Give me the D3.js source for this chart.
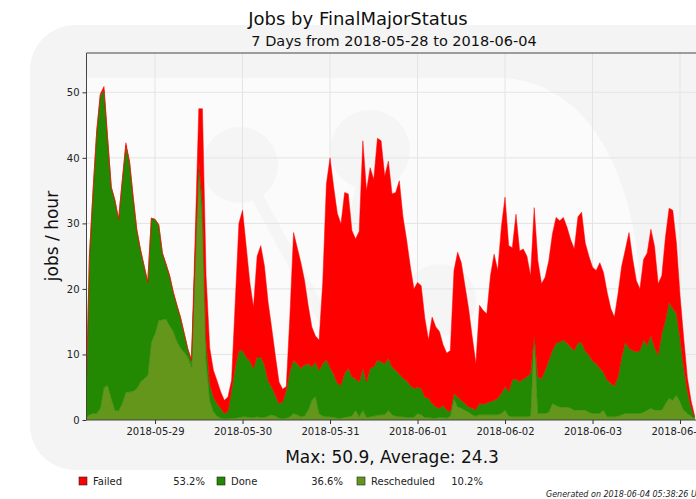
<!DOCTYPE html>
<html>
<head>
<meta charset="utf-8">
<script src="https://cdn.jsdelivr.net/npm/d3@7"></script>
<style>
  body { margin: 0; background: #fff; }
  svg { display: block; font-family: "DejaVu Sans", sans-serif; }
</style>
</head>
<body>
<svg id="chart" width="696" height="499"></svg>
<script>
// hourly bins starting 2018-05-28 05:00 UTC
var startHour = "2018-05-28T05:00:00Z";
var seriesNames = ["Failed", "Done", "Rescheduled"];
var seriesColors = ["#ff0000", "#238802", "#64961c"];
var seriesShares = ["53.2%", "36.6%", "10.2%"];

var failed = [0, 0, 0, 0, 0.2, 0.6, 0.2, 0, 0, 0, 0.1, 0.4, 0.2, 0, 0, 0, 0, 0, 0, 0,
  0, 0, 0, 0, 0, 0, 0, 0, 0, 0, 3, 8, 14.5, 10, 5.5, 4.1, 3.5, 2.5, 2, 2.2,
  1.6, 10, 19.4, 21.4, 16.9, 12, 9.3, 15.4, 17, 15.1, 12, 9, 6, 3.3, 1.9, 0.6, 8.5, 19.5, 17.7, 16.1,
  12.9, 8.9, 6.1, 4, 4.6, 12.4, 26.8, 32, 28.5, 25.9, 24.6, 27.6, 26.6, 22.3, 21.3, 23, 34.7, 29.2, 30.6, 28.6,
  33.9, 33.7, 28.6, 30.1, 26.4, 27.1, 29.5, 24.6, 21.5, 18.2, 15.2, 16, 15.7, 12, 8.9, 13.2, 12.2, 11.7, 9.3, 8.7,
  9.3, 18.8, 22.1, 21, 18, 15, 10.9, 7, 15, 14.3, 13.6, 19.2, 22.3, 19.5, 25.4, 28.9, 22.3, 20.2, 25.1, 20,
  19.8, 18.4, 14.9, 19.4, 17.7, 14.5, 14.2, 15.2, 17.8, 19.2, 18.5, 18.7, 17.7, 16.4, 15.5, 19.2, 19.9, 16.5, 15.1, 14.3,
  14.2, 16.1, 15.2, 13.4, 11.4, 10.5, 12.7, 13.9, 14.1, 17.7, 14, 10.9, 9.4, 12.3, 14.1, 16.2, 15.4, 10.9, 8.8, 12.7,
  14.3, 15, 10.7, 6.5, 4.5, 2, 1, 0.2];
var done = [0.8, 24.2, 34, 43, 47.8, 45.3, 37.5, 32.2, 32, 29.2, 33.9, 37.7, 35, 29.6, 24.2, 20.2, 17.2, 14.2, 18.9, 17.4,
  14.6, 10.2, 8.4, 7.6, 6, 5.5, 4.6, 2.9, 1.2, 1, 1, 1.2, 3, 3, 2.5, 2.2, 1.9, 1.5, 0.8, 1.1,
  4.2, 7.7, 10.2, 10.1, 9.1, 8.6, 7.5, 9.1, 9.2, 8, 5.4, 4.2, 3.2, 2.2, 2.6, 4.2, 7, 8.1, 7.8, 7.4,
  7.8, 7.1, 5.1, 5.2, 6.6, 8, 8.7, 7.5, 6.6, 5.3, 5, 6.7, 7.4, 6, 4.8, 5.3, 6.4, 5.4, 7.4, 7.5,
  8.4, 8.1, 7.8, 7.9, 7.3, 7, 6.5, 5.9, 5.6, 4.9, 4.4, 4, 4, 3.1, 2.9, 2.2, 1.7, 1.4, 1.8, 1.2,
  0.7, 0.8, 1.5, 1.2, 1, 0.8, 1, 1, 1.7, 1.6, 1.8, 2, 2.2, 2.5, 3.1, 3.6, 3.7, 5.6, 5.8, 5.3,
  5.8, 6.1, 6.5, 0.5, 5.6, 5.3, 6.6, 7.9, 8.1, 9.5, 9.9, 10.2, 9.7, 9.3, 9.1, 10.3, 10.3, 9, 8.7, 8,
  7.6, 6.9, 5.8, 5.6, 5.1, 4.7, 6, 8.8, 10.9, 9.9, 9.6, 9.4, 9.6, 11, 9.9, 11.1, 9.6, 8.4, 11.7, 12.7,
  14.7, 14, 12.5, 9.7, 6.5, 3.5, 1.4, 0.2];
var rescheduled = [0.2, 0.8, 1, 1, 1.8, 5, 5.3, 3.3, 1.5, 1.4, 2.5, 4.2, 4.3, 4.4, 4.8, 5.8, 6.3, 6.8, 11.9, 13.2,
  15.2, 15.3, 15.4, 14.4, 13.5, 12, 11, 10.3, 9.6, 8.1, 24, 38.3, 30, 9, 3, 1.3, 0.6, 0.3, 0.2, 0.2,
  0.3, 0.3, 0.4, 0.5, 0.5, 0.4, 0.4, 0.5, 0.4, 0.4, 0.6, 0.8, 0.6, 0.3, 0.2, 0.3, 0.5, 1, 0.8, 0.5,
  0.6, 1.5, 3, 3.6, 1, 0.6, 0.5, 0.5, 0.4, 0.3, 0.3, 0.4, 0.5, 0.6, 1.5, 0.5, 1.5, 0.4, 0.5, 0.6,
  0.7, 0.8, 0.8, 1.5, 0.8, 0.6, 0.5, 0.5, 0.4, 0.4, 0.4, 1, 0.8, 0.4, 0.4, 0.3, 0.3, 0.4, 0.4, 0.3,
  0.6, 3.2, 2, 1.8, 1.5, 1.2, 0.8, 0.6, 0.8, 0.8, 0.8, 0.8, 0.8, 0.8, 1, 1.5, 0.6, 0.5, 0.5, 0.5,
  0.5, 0.5, 0.6, 12.5, 1, 1, 1, 1.2, 2.5, 2.2, 2, 2, 2, 1.8, 1.5, 1.5, 1.5, 1.5, 1.2, 1,
  1, 1, 1.5, 0.5, 0.5, 0.5, 0.6, 0.8, 1, 1, 1, 1, 1, 1.2, 1.5, 1.8, 1.5, 1.5, 1.5, 2.5,
  3.3, 3, 3.8, 2.8, 1.5, 1, 0.6, 0.2];
var yTicks = [0, 10, 20, 30, 40, 50];

(function () {
  var svg = d3.select("#chart");
  var pl = 86.5, pt = 53, pb = 420, pr = 699;

  // faint logo watermark behind the plot
  var wm = svg.append("g");
  wm.append("rect").attr("x", 30).attr("y", 25).attr("width", 720).attr("height", 445)
    .attr("rx", 45).attr("fill", "#f4f4f4");
  wm.append("path")
    .attr("d", "M86,78 L500,78 C600,80 640,200 640,300 C640,400 600,420 560,420 L86,420 Z")
    .attr("fill", "#fbfbfb");
  wm.append("circle").attr("cx", 240).attr("cy", 165).attr("r", 38).attr("fill", "#f5f5f5");
  wm.append("circle").attr("cx", 370).attr("cy", 150).attr("r", 40).attr("fill", "#f5f5f5");
  wm.append("circle").attr("cx", 440).attr("cy", 300).attr("r", 36).attr("fill", "#f5f5f5");
  wm.append("path").attr("d", "M240,165 L330,330 L440,300 M330,330 L370,150")
    .attr("stroke", "#f5f5f5").attr("stroke-width", 12).attr("fill", "none");

  var t0 = new Date(startHour);
  var rows = failed.map(function (d, i) {
    return {
      time: d3.utcHour.offset(t0, i),
      Failed: d,
      Done: done[i],
      Rescheduled: rescheduled[i]
    };
  });

  var axStart = new Date("2018-05-28T05:12:00Z");
  var x = d3.scaleUtc()
    .domain([axStart, d3.utcDay.offset(axStart, 7)])
    .range([pl, pr]);
  var y = d3.scaleLinear()
    .domain([0, 56])
    .range([pb, pt]);

  svg.append("defs").append("clipPath").attr("id", "clip")
    .append("rect").attr("x", pl).attr("y", pt).attr("width", pr - pl).attr("height", pb - pt);

  // grid
  var days = d3.utcDay.range(d3.utcDay.ceil(axStart), d3.utcDay.offset(axStart, 7));
  svg.append("g").selectAll("line").data(days).enter().append("line")
    .attr("x1", function (d) { return x(d); }).attr("x2", function (d) { return x(d); })
    .attr("y1", pt).attr("y2", pb)
    .attr("stroke", "#e4e4e4").attr("stroke-width", 1);
  svg.append("g").selectAll("line").data(yTicks.slice(1)).enter().append("line")
    .attr("x1", pl).attr("x2", pr)
    .attr("y1", function (d) { return y(d); }).attr("y2", function (d) { return y(d); })
    .attr("stroke", "#e4e4e4").attr("stroke-width", 1);

  // stacked areas: Rescheduled at the bottom, then Done, then Failed
  var layers = d3.stack().keys(["Rescheduled", "Done", "Failed"])(rows);
  var colorOf = {};
  seriesNames.forEach(function (n, i) { colorOf[n] = seriesColors[i]; });

  var area = d3.area()
    .x(function (d) { return x(d.data.time); })
    .y0(function (d) { return y(d[0]); })
    .y1(function (d) { return y(d[1]); });

  svg.append("g").attr("clip-path", "url(#clip)")
    .selectAll("path").data(layers).enter().append("path")
    .attr("d", area)
    .attr("fill", function (d) { return colorOf[d.key]; })
    .attr("stroke", function (d) { return colorOf[d.key]; })
    .attr("stroke-width", 0.5);

  // axes
  var yAxis = svg.append("g").attr("transform", "translate(" + pl + ",0)")
    .call(d3.axisLeft(y).tickValues(yTicks).tickSize(4).tickPadding(3));
  var xAxis = svg.append("g").attr("transform", "translate(0," + pb + ")")
    .call(d3.axisBottom(x).tickValues(days).tickSize(4).tickPadding(4)
      .tickFormat(d3.utcFormat("%Y-%m-%d")));
  [yAxis, xAxis].forEach(function (a) {
    a.select(".domain").remove();
    a.selectAll("text").attr("font-size", 10).attr("font-family", "DejaVu Sans").attr("fill", "#222");
    a.selectAll("line").attr("stroke", "#333");
  });

  // frame
  svg.append("path")
    .attr("d", "M" + pr + "," + pt + "H" + pl + "V" + pb + "H" + pr)
    .attr("fill", "none").attr("stroke", "#444").attr("stroke-width", 1);

  // titles
  svg.append("text").attr("x", 358).attr("y", 25).attr("text-anchor", "middle")
    .attr("font-size", 18).attr("fill", "#111").text("Jobs by FinalMajorStatus");
  svg.append("text").attr("x", 394).attr("y", 46).attr("text-anchor", "middle")
    .attr("font-size", 14.5).attr("fill", "#111").text("7 Days from 2018-05-28 to 2018-06-04");
  svg.append("text").attr("transform", "translate(58,236) rotate(-90)").attr("text-anchor", "middle")
    .attr("font-size", 17).attr("fill", "#111").text("jobs / hour");
  svg.append("text").attr("x", 392).attr("y", 463).attr("text-anchor", "middle")
    .attr("font-size", 17).attr("fill", "#111").text("Max: 50.9, Average: 24.3");

  // legend
  var legX = [79, 217, 357];
  var leg = svg.append("g").selectAll("g").data(seriesNames).enter().append("g")
    .attr("transform", function (d, i) { return "translate(" + legX[i] + ",477)"; });
  leg.append("rect").attr("width", 8).attr("height", 8)
    .attr("fill", function (d, i) { return seriesColors[i]; })
    .attr("stroke", "#222").attr("stroke-width", 0.6);
  leg.append("text").attr("x", 14).attr("y", 8).attr("font-size", 10).attr("fill", "#222")
    .text(function (d) { return d; });
  leg.append("text").attr("x", 126).attr("y", 8).attr("text-anchor", "end")
    .attr("font-size", 10).attr("fill", "#222")
    .text(function (d, i) { return seriesShares[i]; });

  svg.append("text").attr("x", 546).attr("y", 497).attr("font-size", 8)
    .attr("font-style", "italic").attr("fill", "#222")
    .text("Generated on 2018-06-04 05:38:26 UTC");
})();
</script>
</body>
</html>
